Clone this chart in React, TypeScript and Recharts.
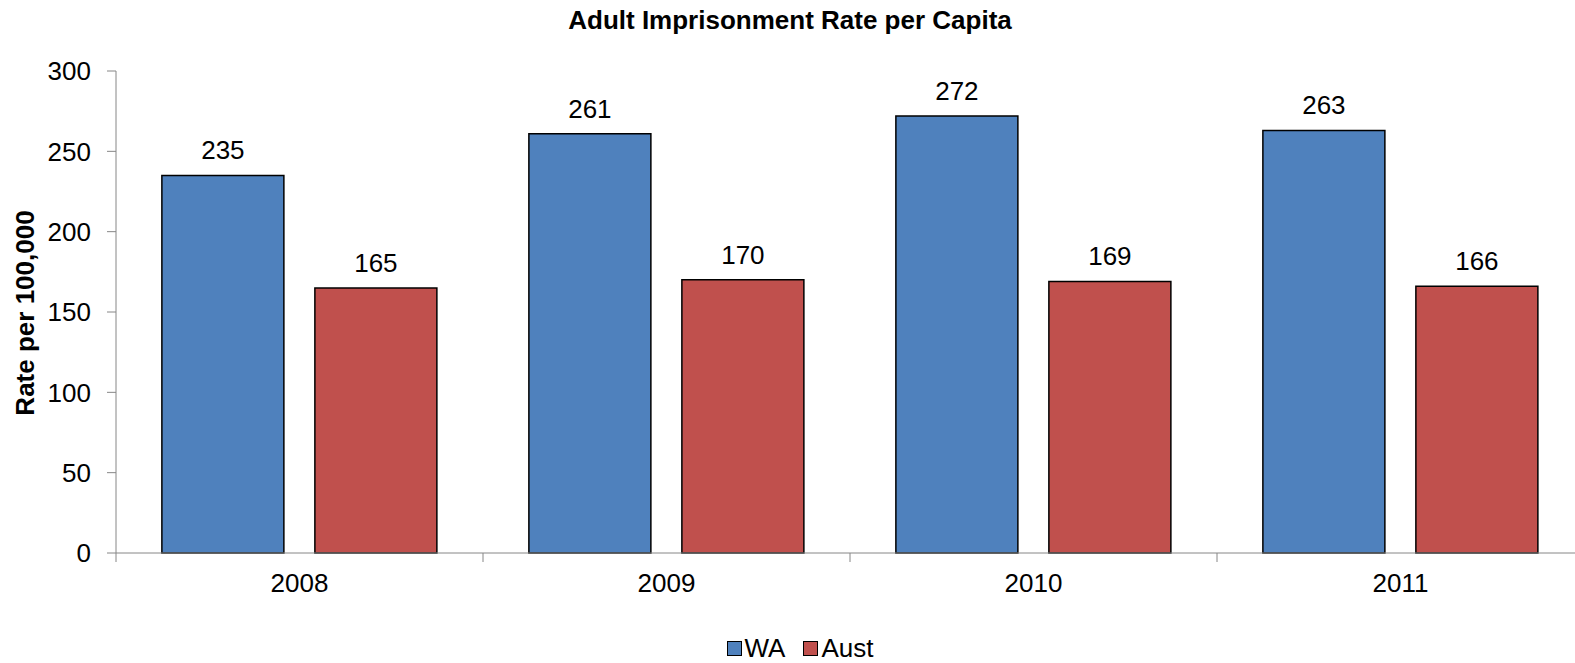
import React from 'react';
import {
  BarChart,
  Bar,
  XAxis,
  YAxis,
  Legend,
  LabelList,
} from 'recharts';

const years = ['2008', '2009', '2010', '2011'];
const waRates = [235, 261, 272, 263];
const austRates = [165, 170, 169, 166];
const yTicks = [0, 50, 100, 150, 200, 250, 300];

const data = years.map((year, i) => ({ year, WA: waRates[i], Aust: austRates[i] }));

const FONT = '"Liberation Sans", Arial, sans-serif';
const FS = 26;
const CHART_W = 1575;
const CHART_H = 663;
// plot runs past the right edge, like the cropped original
const MARGIN = { top: 71, right: -9, bottom: 0, left: 0 };
const Y_AXIS_W = 116;
const BAND = (CHART_W - MARGIN.left - MARGIN.right - Y_AXIS_W) / years.length;
const AXIS_GREY = '#868686';

const colors = { WA: '#4F81BD', Aust: '#C0504D' };

// category labels centred, tick marks on the band edges
const XTick = (props: any) => {
  const { x, y, payload, index } = props;
  const axisY = y - 20;
  return (
    <g>
      <line x1={x - BAND / 2} x2={x - BAND / 2} y1={axisY} y2={axisY + 9} stroke={AXIS_GREY} />
      {index === years.length - 1 && (
        <line x1={x + BAND / 2} x2={x + BAND / 2} y1={axisY} y2={axisY + 9} stroke={AXIS_GREY} />
      )}
      <text x={x} y={y} dy="0.72em" textAnchor="middle" fill="#000" fontSize={FS} fontFamily={FONT}>
        {payload.value}
      </text>
    </g>
  );
};

const LegendContent = () => (
  <div
    style={{
      display: 'flex',
      justifyContent: 'center',
      alignItems: 'center',
      fontFamily: FONT,
      fontSize: FS,
      lineHeight: '24px',
      height: 24,
      color: '#000',
      paddingLeft: 25,
    }}
  >
    {(['WA', 'Aust'] as const).map((key, i) => (
      <div key={key} style={{ display: 'flex', alignItems: 'center', marginLeft: i ? 18 : 0 }}>
        <span
          style={{
            display: 'inline-block',
            width: 13,
            height: 13,
            background: colors[key],
            border: '1px solid #000',
            marginRight: 3,
          }}
        />
        <span>{key}</span>
      </div>
    ))}
  </div>
);

export default function App() {
  return (
    <div style={{ position: 'relative', width: CHART_W, height: CHART_H, overflow: 'hidden', background: '#fff' }}>
      <style>{'html, body { margin: 0; padding: 0; overflow: hidden; }'}</style>
      <div
        style={{
          position: 'absolute',
          top: 5,
          left: 0,
          width: 1580,
          textAlign: 'center',
          fontFamily: FONT,
          fontWeight: 'bold',
          fontSize: FS,
          color: '#000',
          zIndex: 2,
        }}
      >
        Adult Imprisonment Rate per Capita
      </div>
      <BarChart
        width={CHART_W}
        height={CHART_H}
        data={data}
        margin={MARGIN}
        barCategoryGap="12.5%"
        barGap={31}
      >
        <XAxis
          dataKey="year"
          height={CHART_H - 553 - MARGIN.bottom}
          axisLine={{ stroke: AXIS_GREY }}
          tickLine={false}
          tickSize={0}
          tickMargin={20}
          tick={<XTick />}
          interval={0}
        />
        <YAxis
          width={Y_AXIS_W}
          domain={[0, 300]}
          ticks={yTicks}
          interval={0}
          axisLine={{ stroke: AXIS_GREY }}
          tickLine={{ stroke: AXIS_GREY }}
          tickSize={9}
          tickMargin={16}
          tick={{ fill: '#000', fontSize: FS, fontFamily: FONT }}
          label={{
            content: () => (
              <text
                x={34}
                y={313}
                transform="rotate(-90 34 313)"
                textAnchor="middle"
                fontFamily={FONT}
                fontWeight="bold"
                fontSize={FS}
                fill="#000"
              >
                Rate per 100,000
              </text>
            ),
          }}
        />
        <Legend
          verticalAlign="middle"
          align="center"
          content={<LegendContent />}
          wrapperStyle={{ left: 0, top: 636, width: CHART_W, height: 24 }}
        />
        <Bar dataKey="WA" fill={colors.WA} stroke="#000" strokeWidth={1.5} isAnimationActive={false}>
          <LabelList dataKey="WA" position="top" offset={16} fill="#000" fontSize={FS} fontFamily={FONT} />
        </Bar>
        <Bar dataKey="Aust" fill={colors.Aust} stroke="#000" strokeWidth={1.5} isAnimationActive={false}>
          <LabelList dataKey="Aust" position="top" offset={16} fill="#000" fontSize={FS} fontFamily={FONT} />
        </Bar>
      </BarChart>
    </div>
  );
}
